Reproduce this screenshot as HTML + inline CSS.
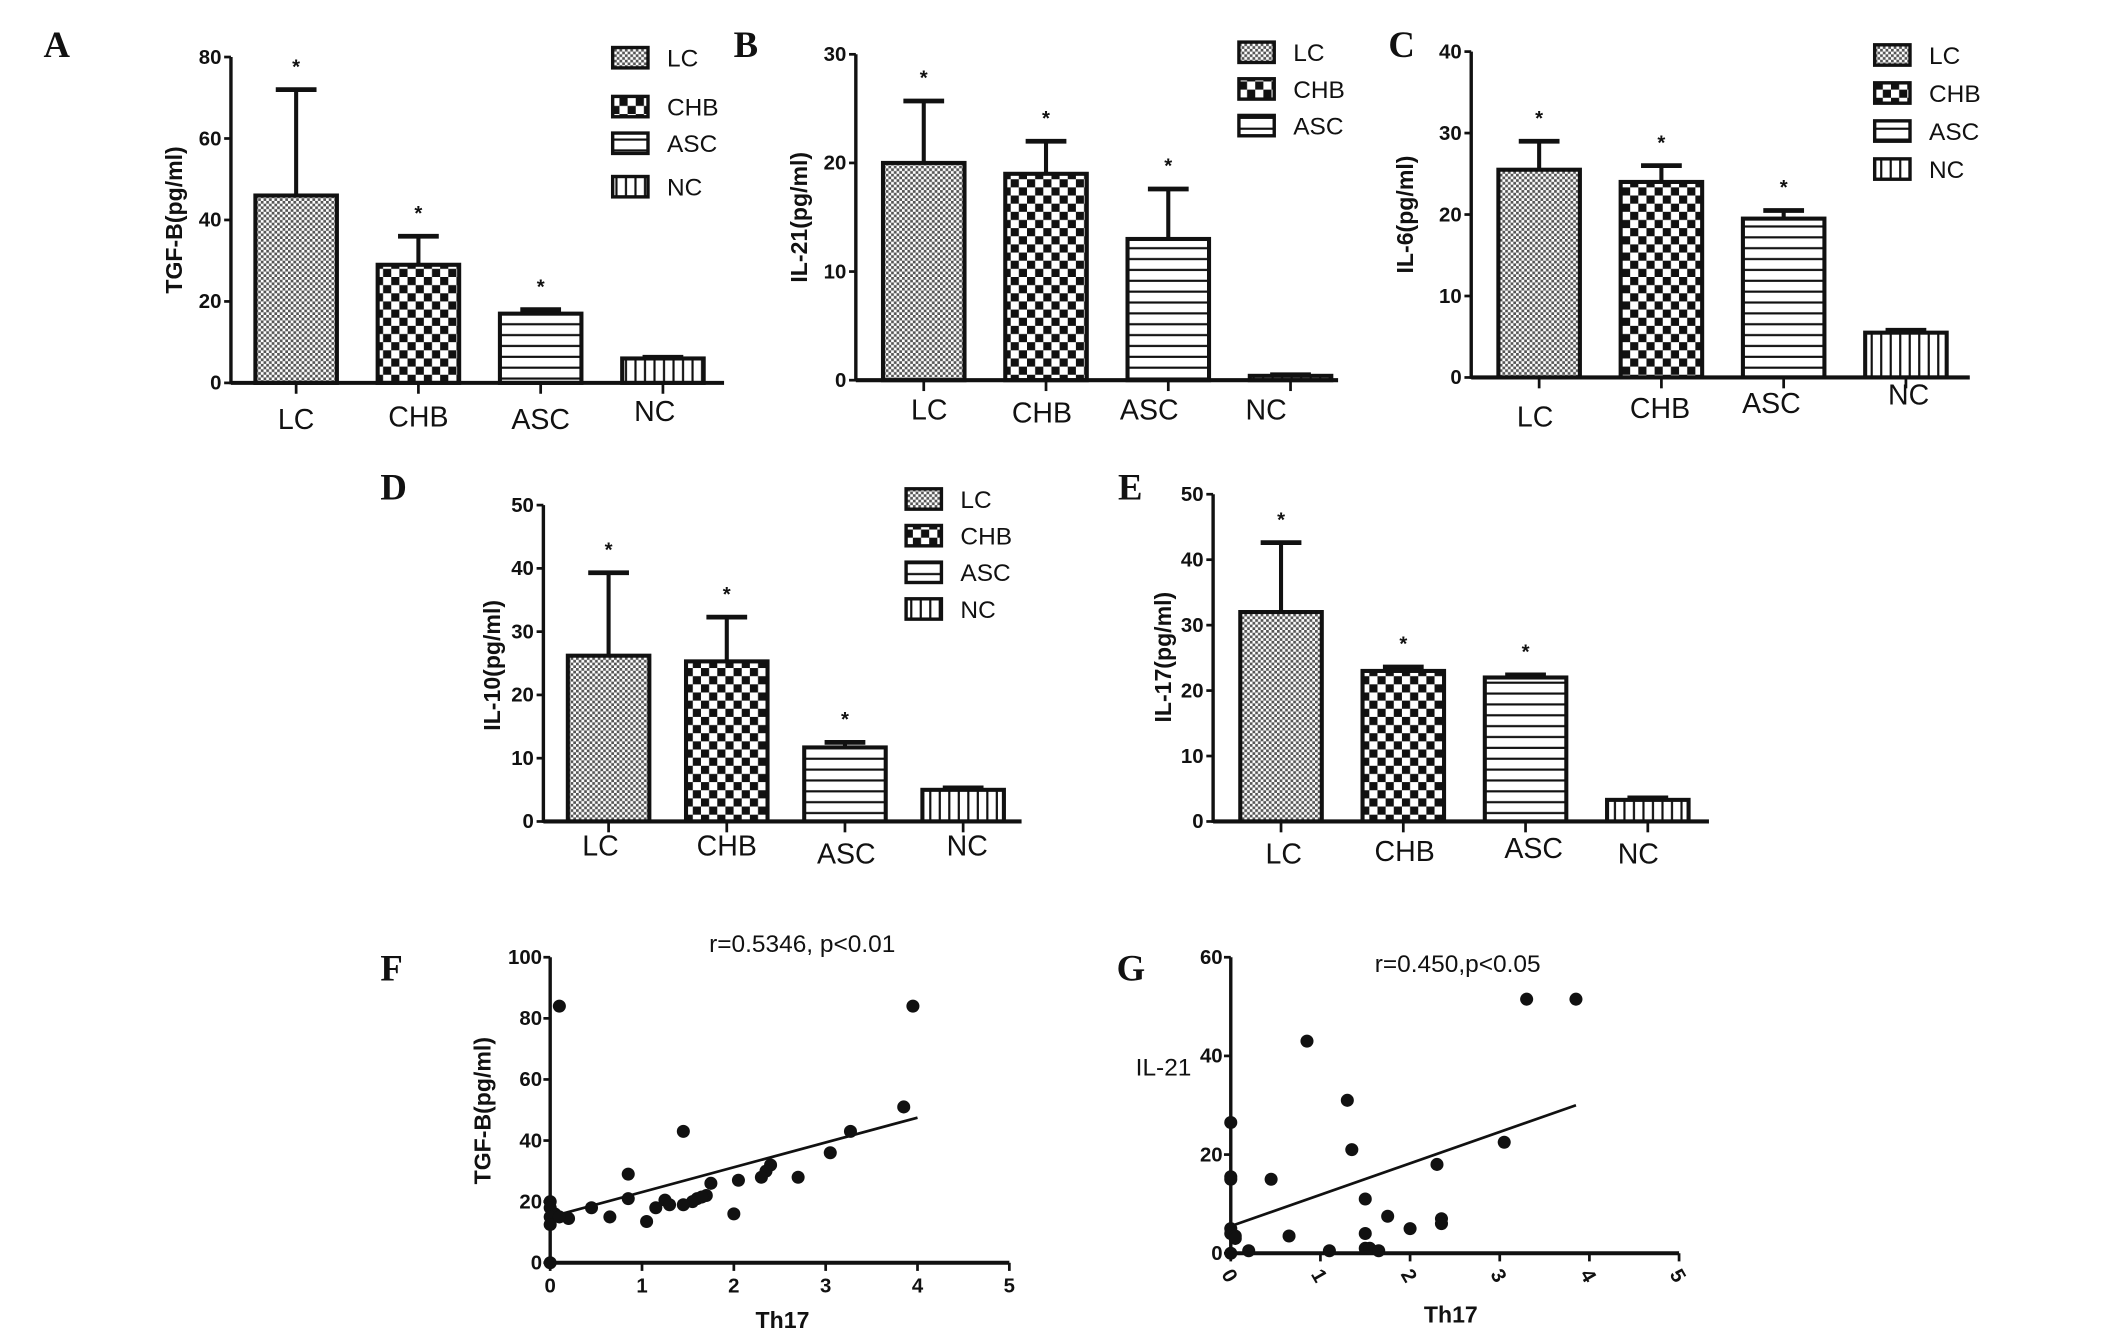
<!DOCTYPE html>
<html><head><meta charset="utf-8">
<style>
html,body{margin:0;padding:0;background:#fff;}
svg{display:block;}
text{font-family:"Liberation Sans",sans-serif;fill:#111;}
.lbl{font-family:"Liberation Serif",serif;font-weight:bold;font-size:27px;}
.tick{font-size:15px;font-weight:bold;}
.cat{font-size:21px;}
.leg{font-size:18px;}
.ytitle{font-size:17px;font-weight:bold;}
</style></head>
<body>
<svg id="fig" width="2126" height="1332" viewBox="0 0 1565 981" preserveAspectRatio="none" xmlns="http://www.w3.org/2000/svg">
<defs>
<pattern id="pLC" width="4" height="4" patternUnits="userSpaceOnUse"><rect width="4" height="4" fill="#fff"/><rect width="2" height="2" fill="#555"/><rect x="2" y="2" width="2" height="2" fill="#555"/></pattern>
<pattern id="pCHB" width="12" height="12" patternUnits="userSpaceOnUse"><rect width="12" height="12" fill="#fff"/><rect width="6" height="6" fill="#111"/><rect x="6" y="6" width="6" height="6" fill="#111"/></pattern>
<pattern id="pASC" width="8" height="8" patternUnits="userSpaceOnUse"><rect width="8" height="8" fill="#fff"/><rect y="6" width="8" height="1.6" fill="#111"/></pattern>
<pattern id="pNC" width="7" height="7" patternUnits="userSpaceOnUse"><rect width="7" height="7" fill="#fff"/><rect x="5" width="1.6" height="7" fill="#111"/></pattern>
</defs>
</svg>
<script>
// ---- data ----
const categories = ["LC","CHB","ASC","NC"];
const valsA = [46, 29, 17, 6];
const errA  = [72, 36, 18, 6.3];
const valsB = [20, 19, 13, 0.4];
const errB  = [25.7, 22, 17.6, 0.5];
const valsC = [25.5, 24, 19.5, 5.5];
const errC  = [29, 26, 20.5, 5.8];
const valsD = [26.2, 25.3, 11.7, 5];
const errD  = [39.3, 32.3, 12.5, 5.3];
const valsE = [32, 23, 22, 3.3];
const errE  = [42.6, 23.6, 22.4, 3.6];
const ticksA = [0,20,40,60,80];
const ticksB = [0,10,20,30];
const ticksC = [0,10,20,30,40];
const ticksD = [0,10,20,30,40,50];
const ticksE = [0,10,20,30,40,50];
const starsA = [true,true,true,false];
const starsB = [true,true,true,false];
const starsC = [true,true,true,false];
const starsD = [true,true,true,false];
const starsE = [true,true,true,false];
const fX = [0.1,3.95,3.85,3.27,1.45,3.05,2.4,2.35,2.3,2.7,0.85,2.05,1.75,1.7,1.6,1.65,1.55,1.45,1.25,1.3,1.15,0.85,0.45,0.65,1.05,2.0,0.2,0.05,0,0,0,0,0.1,0];
const fY = [84,84,51,43,43,36,32,30,28,28,29,27,26,22,21,21.5,20,19,20.5,19,18,21,18,15,13.5,16,14.5,16,20,18,15,12.5,15,0];
const fFit = [15, 47.5]; // y at x=0 and x=4
const gX = [3.3,3.85,0.85,1.3,0,1.35,3.05,2.3,0,0,0.45,1.5,1.75,2.35,2.35,2.0,1.5,0,0,0.05,0.65,1.5,1.55,1.65,1.1,0.2,0,0.05];
const gY = [51.5,51.5,43,31,26.5,21,22.5,18,15.5,15,15,11,7.5,7,6,5,4,5,4,3.5,3.5,1,1,0.5,0.5,0.5,0,3];
const gFit = [5.5, 30]; // y at x=0 and x=3.85
const xTicksScatter = [0,1,2,3,4,5];
const ticksF = [0,20,40,60,80,100];
const ticksG = [0,20,40,60];

const NS = "http://www.w3.org/2000/svg";
const svg = document.getElementById("fig");
function el(tag, attrs, parent){
  const e = document.createElementNS(NS, tag);
  for (const k in attrs) e.setAttribute(k, attrs[k]);
  (parent||svg).appendChild(e);
  return e;
}
function txt(s, x, y, cls, extra){
  const t = el("text", Object.assign({x:x, y:y, class:cls}, extra||{}));
  t.textContent = s;
  return t;
}

function barPanel(p){
  const g = el("g", {});
  
  
  const ymax = p.ticks[p.ticks.length-1];
  const Y = v => p.y0 - (v/ymax)*(p.y0 - p.ytop);
  p.vals.forEach((v,i)=>{
    const bx = p.bx0 + i*p.step;
    const cx = bx + p.bw/2;
    const ey = Y(p.err[i]);
    const e1 = el("line",{x1:cx,x2:cx,y1:Y(v),y2:ey,stroke:"#111","stroke-width":3},g);
    
    
    const e2 = el("line",{x1:cx-15,x2:cx+15,y1:ey,y2:ey,stroke:"#111","stroke-width":3.5},g);
    
    
    const r = el("rect",{x:bx,y:Y(v),width:p.bw,height:p.y0-Y(v),fill:"url(#p"+categories[i]+")",stroke:"#111","stroke-width":3},g);
    
    
    if (p.stars[i]) {
      const s = txt("*", cx, ey-12, "tick", {"text-anchor":"middle","font-weight":"normal","font-size":"18"});
      
      
      g.appendChild(s);
    }
    const tk = el("line",{x1:cx,x2:cx,y1:p.y0,y2:p.y0+8,stroke:"#111","stroke-width":2},g);
    
    
    const cl = txt(categories[i], cx + (p.catDx? p.catDx[i]:0), p.catY + (p.catDy? p.catDy[i]:0), "cat", {"text-anchor":"middle"});
    
    
    g.appendChild(cl);
  });
  const ya = el("line",{x1:p.x0,x2:p.x0,y1:p.ytop,y2:p.y0+1,stroke:"#111","stroke-width":2.5},g);
  
  
  const xa = el("line",{x1:p.x0,x2:p.xend,y1:p.y0,y2:p.y0,stroke:"#111","stroke-width":3},g);
  
  
  p.ticks.forEach(t=>{
    const l = el("line",{x1:p.x0-5,x2:p.x0,y1:Y(t),y2:Y(t),stroke:"#111","stroke-width":2},g);
    
    
    const tl = txt(String(t), p.x0-7, Y(t)+5, "tick", {"text-anchor":"end"});
    
    
    g.appendChild(tl);
  });
  const yt = txt(p.ytitle, 0, 0, "ytitle", {"text-anchor":"middle",transform:"translate("+p.ytx+","+p.yty+") rotate(-90)"});
  
  
  g.appendChild(yt);
  const pl = txt(p.letter, p.lx, p.ly, "lbl");
  
  
  g.appendChild(pl);
  if (p.legend) {
    p.legend.ys.forEach((ly,i)=>{
      const lr = el("rect",{x:p.legend.x,y:ly-7,width:26,height:15,fill:"url(#p"+categories[i]+")",stroke:"#111","stroke-width":2.5},g);
      
      
      const lt = txt(categories[i], p.legend.x+40, ly+7, "leg");
      
      
      g.appendChild(lt);
    });
  }
}

barPanel({name:"panel-a-tgf-b",vals:valsA,err:errA,ticks:ticksA,stars:starsA,x0:170,xend:533,y0:282,ytop:42,bx0:188,step:90,bw:60,catY:316,catDx:[0,0,0,-6],catDy:[0,-2,0,-6],ytitle:"TGF-B(pg/ml)",ytx:134,yty:162,letter:"A",lx:32,ly:42,legend:{x:451,ys:[42,78,105,137]}});
barPanel({name:"panel-b-il-21",vals:valsB,err:errB,ticks:ticksB,stars:starsB,x0:630,xend:985,y0:280,ytop:40,bx0:650,step:90,bw:60,catY:309,catDx:[4,-3,-14,-18],catDy:[0,2,0,0],ytitle:"IL-21(pg/ml)",ytx:594,yty:160,letter:"B",lx:540,ly:42,legend:{x:912,ys:[38,65,92]}});
barPanel({name:"panel-c-il-6",vals:valsC,err:errC,ticks:ticksC,stars:starsC,x0:1083,xend:1450,y0:278,ytop:38,bx0:1103,step:90,bw:60,catY:310,catDx:[-3,-1,-9,2],catDy:[4,-2,-6,-12],ytitle:"IL-6(pg/ml)",ytx:1040,yty:158,letter:"C",lx:1022,ly:42,legend:{x:1380,ys:[40,68,96,124]}});
barPanel({name:"panel-d-il-10",vals:valsD,err:errD,ticks:ticksD,stars:starsD,x0:400,xend:752,y0:605,ytop:372,bx0:418,step:87,bw:60,catY:630,catDx:[-6,0,1,3],catDy:[0,0,6,0],ytitle:"IL-10(pg/ml)",ytx:368,yty:490,letter:"D",lx:280,ly:368,legend:{x:667,ys:[367,394,421,448]}});
barPanel({name:"panel-e-il-17",vals:valsE,err:errE,ticks:ticksE,stars:starsE,x0:893,xend:1258,y0:605,ytop:364,bx0:913,step:90,bw:60,catY:636,catDx:[2,1,6,-7],catDy:[0,-2,-4,0],ytitle:"IL-17(pg/ml)",ytx:862,yty:484,letter:"E",lx:823,ly:368,legend:null});

function scatterPanel(p){
  const g = el("g", {});
  
  
  const ymax = p.ticks[p.ticks.length-1];
  const X = v => p.x0 + v*p.xunit;
  const Y = v => p.y0 - (v/ymax)*(p.y0 - p.ytop);
  const ya = el("line",{x1:p.x0,x2:p.x0,y1:p.ytop,y2:p.y0,stroke:"#111","stroke-width":2.5},g);
  
  
  const xa = el("line",{x1:p.x0,x2:X(5),y1:p.y0,y2:p.y0,stroke:"#111","stroke-width":3},g);
  
  
  p.ticks.forEach(t=>{
    const l = el("line",{x1:p.x0-5,x2:p.x0,y1:Y(t),y2:Y(t),stroke:"#111","stroke-width":2},g);
    
    
    const tl = txt(String(t), p.x0-6, Y(t)+5, "tick", {"text-anchor":"end"});
    
    
    g.appendChild(tl);
  });
  xTicksScatter.forEach(t=>{
    const l = el("line",{x1:X(t),x2:X(t),y1:p.y0,y2:p.y0+6,stroke:"#111","stroke-width":2},g);
    
    
    const attrs = {"text-anchor":"middle"};
    let tx = X(t), ty = p.y0+22;
    if (p.rotX) { attrs.transform = "rotate(60,"+tx+","+(ty-6)+")"; }
    const tl = txt(String(t), tx, ty, "tick", attrs);
    
    
    g.appendChild(tl);
  });
  const fit = el("line",{x1:X(0),y1:Y(p.fit[0]),x2:X(p.fitX),y2:Y(p.fit[1]),stroke:"#111","stroke-width":2},g);
  
  
  p.xs.forEach((x,i)=>{
    const c = el("circle",{cx:X(x),cy:Y(p.ys[i]),r:4.8,fill:"#111"},g);
    
    
  });
  const st = txt(p.stat, p.statX, p.statY, "leg", {"font-size":"19"});
  
  
  g.appendChild(st);
  const xt = txt("Th17", p.xtX, p.xtY, "ytitle", {"text-anchor":"middle"});
  
  
  g.appendChild(xt);
  const yt = p.yRot
    ? txt(p.ytitle, 0, 0, "ytitle", {"text-anchor":"middle",transform:"translate("+p.ytx+","+p.yty+") rotate(-90)"})
    : txt(p.ytitle, p.ytx, p.yty, "leg", {"font-size":"20"});
  
  
  g.appendChild(yt);
  const pl = txt(p.letter, p.lx, p.ly, "lbl");
  
  
  g.appendChild(pl);
}

scatterPanel({name:"panel-f-scatter",xs:fX,ys:fY,fit:fFit,fitX:4,ticks:ticksF,x0:405,xunit:67.6,y0:930,ytop:705,stat:"r=0.5346,   p<0.01",statX:522,statY:701,xtX:576,xtY:978,ytitle:"TGF-B(pg/ml)",yRot:true,ytx:361,yty:818,letter:"F",lx:280,ly:722,rotX:false});
scatterPanel({name:"panel-g-scatter",xs:gX,ys:gY,fit:gFit,fitX:3.85,ticks:ticksG,x0:906,xunit:66,y0:923,ytop:705,stat:"r=0.450,p<0.05",statX:1012,statY:716,xtX:1068,xtY:974,ytitle:"IL-21",yRot:false,ytx:836,yty:792,letter:"G",lx:822,ly:722,rotX:true});
</script>
</body></html>
